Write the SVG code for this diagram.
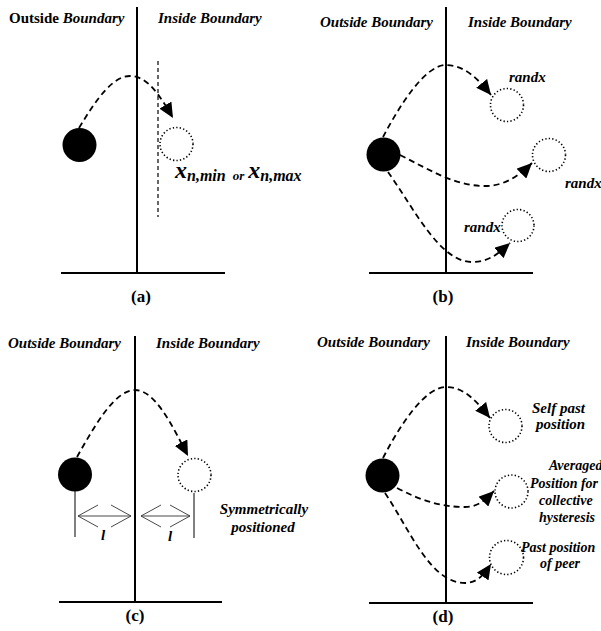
<svg xmlns="http://www.w3.org/2000/svg" width="601" height="631" viewBox="0 0 601 631" font-family="'Liberation Serif', 'Times New Roman', Times, serif">
<style>
text{font-family:'Liberation Serif','Times New Roman',Times,serif;font-weight:bold;fill:#000}
.bi{font-style:italic}
.hd{font-size:15px}
.cap{font-size:17px;text-anchor:middle}
.axis{stroke:#000;stroke-width:2;fill:none}
.ball{fill:#000}
.ghost{fill:none;stroke:#000;stroke-width:1.6;stroke-dasharray:1.3 2.2}
.arc{fill:none;stroke:#000;stroke-width:1.8;stroke-dasharray:6 4;marker-end:url(#ah)}
.thin{stroke:#000;stroke-width:1;fill:none}
.dbl{stroke:#333;stroke-width:0.9;fill:none}
</style>
<defs>
<marker id="ah" markerUnits="userSpaceOnUse" markerWidth="16" markerHeight="14" viewBox="0 0 16 14" refX="15" refY="7" orient="auto">
<path d="M0,0 L15,7 L0,14 Z" fill="#000"/>
</marker>
</defs>

<!-- Panel a -->
<g id="panel-a">
<line class="axis" x1="137" y1="7" x2="137" y2="273"/>
<line class="axis" x1="61" y1="273" x2="225" y2="273"/>
<text class="hd" x="9" y="23">Outside <tspan class="bi">Boundary</tspan></text>
<text class="hd bi" x="158" y="23">Inside Boundary</text>
<text class="cap" x="141" y="302">(a)</text>
</g>
<g id="a-ball"><circle class="ball" cx="79.5" cy="145" r="17"/></g>
<g id="a-target"><circle class="ghost" cx="176.5" cy="144" r="16.5"/></g>
<g id="a-limit"><line x1="158" y1="61" x2="158" y2="217" stroke="#000" stroke-width="1.2" stroke-dasharray="4 3"/></g>
<g id="a-label">
<text class="bi" x="175" y="178" font-size="24">x<tspan font-size="16" dy="3">n,min</tspan><tspan font-size="13" dx="7" dy="-1">or</tspan><tspan font-size="24" dx="4" dy="-2">x</tspan><tspan font-size="16" dy="3">n,max</tspan></text>
</g>

<!-- Panel b -->
<g id="panel-b">
<line class="axis" x1="446" y1="7" x2="446" y2="273"/>
<line class="axis" x1="369" y1="273" x2="533" y2="273"/>
<text class="hd bi" x="320" y="27">Outside Boundary</text>
<text class="hd bi" x="468" y="27">Inside Boundary</text>
<text class="cap" x="443" y="302">(b)</text>
</g>
<g id="b-ball"><circle class="ball" cx="383.5" cy="154.5" r="17"/></g>
<g id="b-t1"><circle class="ghost" cx="507" cy="105" r="16.5"/><text class="hd bi" x="509" y="82">randx</text></g>
<g id="b-t2"><circle class="ghost" cx="549" cy="155" r="16.5"/><text class="hd bi" x="565" y="188">randx</text></g>
<g id="b-t3"><circle class="ghost" cx="518" cy="225.5" r="16"/><text class="hd bi" x="464" y="232">randx</text></g>

<!-- Panel c -->
<g id="panel-c">
<line class="axis" x1="135" y1="336" x2="135" y2="602"/>
<line class="axis" x1="59" y1="602" x2="222" y2="602"/>
<text class="hd bi" x="8" y="348">Outside Boundary</text>
<text class="hd bi" x="156" y="348">Inside Boundary</text>
<text class="cap" x="135" y="621">(c)</text>
</g>
<g id="c-ball"><circle class="ball" cx="75" cy="474.5" r="17"/><line class="thin" x1="75" y1="491" x2="75" y2="537"/></g>
<g id="c-target"><circle class="ghost" cx="194.5" cy="475" r="16.5"/><line class="thin" x1="194" y1="493" x2="194" y2="538"/></g>
<g id="c-dist-left">
<path class="dbl" d="M78,516 H131 M98,505 L78,516 L98,527 M111,505 L131,516 L111,527"/>
<text class="hd bi" x="103" y="540" text-anchor="middle">l</text>
</g>
<g id="c-dist-right">
<path class="dbl" d="M141,516 H190 M161,505 L141,516 L161,527 M170,505 L190,516 L170,527"/>
<text class="hd bi" x="170" y="541" text-anchor="middle">l</text>
</g>
<g id="c-label">
<text class="hd bi" x="264" y="514" text-anchor="middle">Symmetrically</text>
<text class="hd bi" x="263" y="532" text-anchor="middle">positioned</text>
</g>

<!-- Panel d -->
<g id="panel-d">
<line class="axis" x1="446" y1="336" x2="446" y2="603"/>
<line class="axis" x1="369" y1="603" x2="533" y2="603"/>
<text class="hd bi" x="317" y="347">Outside Boundary</text>
<text class="hd bi" x="466" y="347">Inside Boundary</text>
<text class="cap" x="443" y="622">(d)</text>
</g>
<g id="d-ball"><circle class="ball" cx="382.5" cy="475.5" r="17"/></g>
<g id="d-t1"><circle class="ghost" cx="505.5" cy="426" r="16.5"/>
<text class="hd bi" x="532" y="413">Self past</text>
<text class="hd bi" x="536" y="429">position</text></g>
<g id="d-t2"><circle class="ghost" cx="511.5" cy="491.5" r="16.5"/>
<text class="bi" font-size="14" x="549" y="470">Averaged</text>
<text class="bi" font-size="14" x="530" y="488">Position for</text>
<text class="bi" font-size="14" x="539" y="505">collective</text>
<text class="bi" font-size="14" x="539" y="522">hysteresis</text></g>
<g id="d-t3"><circle class="ghost" cx="506.5" cy="557.5" r="17"/>
<text class="bi" font-size="14" x="521" y="552">Past position</text>
<text class="bi" font-size="14" x="540" y="568">of peer</text></g>

<!-- Connectors -->
<g id="connectors">
<path class="arc" d="M79,128 C97,98 113,76 130,76 C148,76 160,96 173,118"/>
<path class="arc" d="M383,137 C400,105 425,65 446,65 C465,65 479,80 491,95"/>
<path class="arc" d="M400,155 C430,170 455,186 485,186 C505,186 520,175 532,163"/>
<path class="arc" d="M388,172 C415,210 440,262 472,262 C490,262 500,252 510,243"/>
<path class="arc" d="M77,457 C95,425 115,390 135,390 C155,390 172,425 188,456"/>
<path class="arc" d="M383,458 C400,425 425,387 446,387 C465,387 478,403 490,418"/>
<path class="arc" d="M397,488 C420,500 440,507 465,507 C480,507 488,497 494,491"/>
<path class="arc" d="M385,493 C410,530 430,583 465,583 C478,583 485,573 491,564"/>
</g>
</svg>
